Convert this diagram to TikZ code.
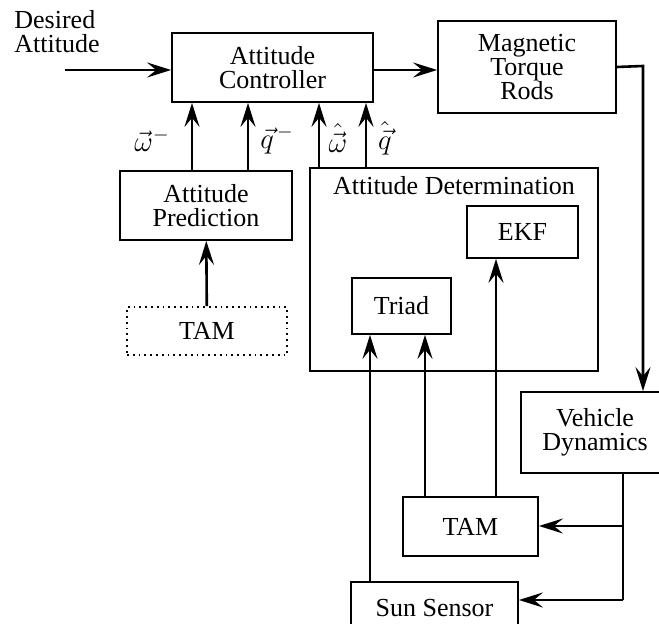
\documentclass[tikz,border=0pt]{standalone}
\usepackage{fontspec}
\setmainfont{Liberation Serif}
\usepackage{tikz}
\usetikzlibrary{arrows.meta,positioning,calc}

\begin{document}
\begin{tikzpicture}[x=0.5pt,y=-0.5pt,
  box/.style={draw,line width=0.9pt,inner sep=2pt,align=center,
              font=\fontsize{13}{12}\selectfont},
  arr/.style={-{Stealth[length=12pt,width=7.5pt,inset=4.5pt]},line width=1.3pt},
  lin/.style={line width=1.2pt},
  lab/.style={font=\fontsize{14}{14}\selectfont,inner sep=1pt}
]
\clip (0,0) rectangle (659,624);
% blocks
\node[box,minimum width=100.5pt,minimum height=34.5pt] (ctrl) at (272.5,67.5) {Attitude\\Controller};
\node[box,minimum width=89pt,minimum height=46pt] (mtr) at (527,67) {Magnetic\\Torque\\Rods};
\node[box,minimum width=86pt,minimum height=34.5pt] (pred) at (206,205.5) {Attitude\\Prediction};
\node[box,dotted,minimum width=80pt,minimum height=24pt] (tamp) at (207,331) {TAM};
\node[box,minimum width=144pt,minimum height=101.5pt] (det) at (454,269.5) {};
\node[font=\fontsize{13}{12}\selectfont,below=1pt of det.north] (dett) {Attitude Determination};
\node[box,minimum width=55.5pt,minimum height=26pt] (ekf) at (522.5,232) {EKF};
\node[box,minimum width=49.5pt,minimum height=28pt] (triad) at (401.5,306) {Triad};
\node[box,minimum width=74pt,minimum height=40.5pt] (veh) at (595,432.5) {Vehicle\\Dynamics};
\node[box,minimum width=67.5pt,minimum height=29.5pt] (tam) at (470.5,526.5) {TAM};
\node[box,minimum width=83.5pt,minimum height=26pt] (sun) at (434.5,608) {Sun Sensor};
\node[font=\fontsize{13}{12}\selectfont,align=left] (des) at (57,32) {Desired\\Attitude};
% helper points
\coordinate (in) at (65,70);
\coordinate (xw) at (192,0);
\coordinate (xq) at (248,0);
\coordinate (xwh) at (319,0);
\coordinate (xqh) at (366,0);
\coordinate (xs) at (370,0);
\coordinate (xt) at (425,0);
\coordinate (xe) at (496,0);
\coordinate (c1) at (643,66);
\coordinate (c2) at (623,0);
\coordinate (c3) at (623,526);
\coordinate (c4) at (623,600);
% connectors
\draw[arr] (in) -- (in -| ctrl.west);
\draw[arr] (ctrl.east |- in) -- (mtr.west |- in);
\draw[arr] (mtr.east) -- (c1) -- (c1 |- veh.north);
\draw[arr] (tamp) -- (pred);
\draw[arr] (xw |- pred.north) -- (xw |- ctrl.south);
\draw[arr] (xq |- pred.north) -- (xq |- ctrl.south);
\draw[arr] (xwh |- det.north) -- (xwh |- ctrl.south);
\draw[arr] (xqh |- det.north) -- (xqh |- ctrl.south);
\draw[arr] (xs |- sun.north) -- (xs |- triad.south);
\draw[arr] (xt |- tam.north) -- (xt |- triad.south);
\draw[arr] (xe |- tam.north) -- (xe |- ekf.south);
\draw[lin] (c2 |- veh.south) -- (c4);
\draw[arr] (c3) -- (c3 -| tam.east);
\draw[arr] (c4) -- (c4 -| sun.east);
% signal labels
\node[lab] (lw) at (152,140) {$\vec{\omega}^-$};
\node[lab] (lq) at (277,140) {$\vec{q}^{\,-}$};
\node[lab] (lwh) at (338,138) {$\hat{\vec{\omega}}$};
\node[lab] (lqh) at (385,138) {$\hat{\vec{q}}$};
\end{tikzpicture}
\end{document}
